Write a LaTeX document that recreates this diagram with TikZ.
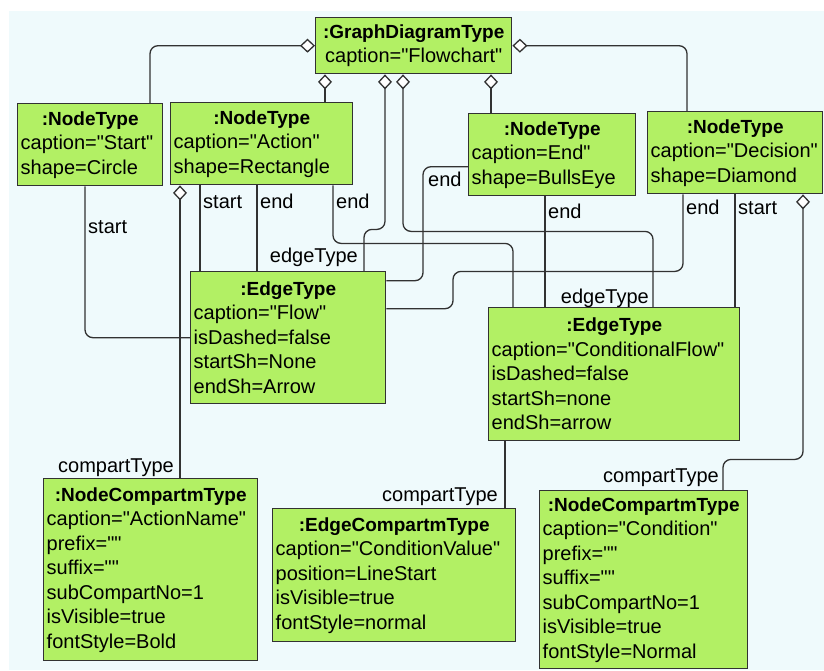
\documentclass[tikz,border=0pt]{standalone}
\usepackage{fontspec}
\setmainfont{Liberation Sans}
\usetikzlibrary{arrows.meta}

\definecolor{bgcyan}{RGB}{239,250,252}
\definecolor{boxgreen}{RGB}{178,240,100}
\definecolor{linegray}{RGB}{50,50,50}
\newcommand{\objfont}{\fontsize{20}{24.5}\selectfont}
\newcommand{\objhead}[1]{{\centering\fontsize{19}{24.5}\selectfont\bfseries #1\par}}
\newcommand{\qmark}{\textquotedbl}

\begin{document}
\begin{tikzpicture}[x=1pt, y=-1pt,
    obj/.style={draw=linegray, line width=1.4pt, fill=boxgreen, anchor=north west,
                inner xsep=3pt, inner ysep=2pt, align=left, font=\objfont},
    role/.style={inner sep=0pt, font=\objfont},
    link/.style={draw=linegray, line width=1.3pt, rounded corners=8pt},
    owner/.style={link, arrows={Diamond[open, fill=white, length=15pt, width=14pt]-}}]

    \useasboundingbox (0 , 0) rectangle (824 , 670);
    \fill[white] (0 , 0) rectangle (824 , 670);
    \fill[bgcyan] (9 , 11) rectangle (824 , 670);

    \node [obj, align=center, text width=190pt, minimum height=56pt] (graph) at (315 , 17)
        {\objhead{:GraphDiagramType}caption=\qmark Flowchart\qmark};
    \node [obj, text width=139pt, minimum height=82pt] (nstart) at (17 , 103)
        {\objhead{:NodeType}caption=\qmark Start\qmark\\shape=Circle};
    \node [obj, text width=176pt, minimum height=82pt] (naction) at (170 , 102)
        {\objhead{:NodeType}caption=\qmark Action\qmark\\shape=Rectangle};
    \node [obj, text width=161pt, minimum height=82pt] (nend) at (468 , 113)
        {\objhead{:NodeType}caption=End\qmark\\shape=BullsEye};
    \node [obj, text width=169pt, minimum height=82pt] (ndecision) at (647 , 111)
        {\objhead{:NodeType}caption=\qmark Decision\qmark\\shape=Diamond};
    \node [obj, text width=189pt, minimum height=132pt] (eflow) at (190 , 271)
        {\objhead{:EdgeType}caption=\qmark Flow\qmark\\isDashed=false\\startSh=None\\endSh=Arrow};
    \node [obj, text width=245pt, minimum height=133pt] (econd) at (488 , 307)
        {\objhead{:EdgeType}caption=\qmark ConditionalFlow\qmark\\isDashed=false\\startSh=none\\endSh=arrow};
    \node [obj, text width=208pt, minimum height=182pt] (cname) at (43 , 478)
        {\objhead{:NodeCompartmType}caption=\qmark ActionName\qmark\\prefix=\qmark\qmark\\suffix=\qmark\qmark\\subCompartNo=1\\isVisible=true\\fontStyle=Bold};
    \node [obj, text width=237pt, minimum height=133pt] (cvalue) at (272 , 508)
        {\objhead{:EdgeCompartmType}caption=\qmark ConditionValue\qmark\\position=LineStart\\isVisible=true\\fontStyle=normal};
    \node [obj, text width=202pt, minimum height=178pt] (ccond) at (539 , 490)
        {\objhead{:NodeCompartmType}caption=\qmark Condition\qmark\\prefix=\qmark\qmark\\suffix=\qmark\qmark\\subCompartNo=1\\isVisible=true\\fontStyle=Normal};

    \path[owner] (graph.west) -| ([xshift=133pt]nstart.north west);
    \path[owner] (graph.east) -| ([xshift=40pt]ndecision.north west);
    \path[owner] ([xshift=10pt]graph.south west) -- ([xshift=155pt]naction.north west);
    \path[owner] ([xshift=70pt]graph.south west) -- ++(0 , 155) -| ([xshift=174pt]eflow.north west);
    \path[owner] ([xshift=88pt]graph.south west) -- ++(0 , 157) -| ([xshift=165pt]econd.north west);
    \path[owner] ([xshift=176pt]graph.south west) -- ([xshift=23pt]nend.north west);
    \path[owner] ([xshift=10pt]naction.south west) -- ([xshift=137pt]cname.north west);
    \path[owner] ([xshift=156pt]ndecision.south west) -- ++(0 , 265) -| ([xshift=184pt]ccond.north west);

    \path[link] ([xshift=68pt]nstart.south west) |- (eflow.west);
    \path[link] ([xshift=30pt]naction.south west) -- ([xshift=10pt]eflow.north west);
    \path[link] ([xshift=87pt]naction.south west) -- ([xshift=67pt]eflow.north west);
    \path[link] ([xshift=163pt]naction.south west) -- ++(0 , 58) -| ([xshift=25pt]econd.north west);
    \path[link] ([yshift=-12pt]nend.west) -- ++(-45 , 0) |- ([yshift=57pt]eflow.east);
    \path[link] ([xshift=77pt]nend.south west) -- ([xshift=57pt]econd.north west);
    \path[link] ([xshift=36pt]ndecision.south west) -- ++(0 , 77) -- ++(-230 , 0) |- ([yshift=29pt]eflow.east);
    \path[link] ([xshift=88pt]ndecision.south west) -- ([xshift=247pt]econd.north west);
    \path[link] ([xshift=17pt]econd.south west) -- ([xshift=233pt]cvalue.north west);

    \node [role, anchor=base west] (rstart) at (88 , 233) {start};
    \node [role, anchor=base west] (rastart) at (203 , 208) {start};
    \node [role, anchor=base west] (raend) at (260 , 208) {end};
    \node [role, anchor=base west] (raend2) at (336 , 208) {end};
    \node [role, anchor=base west] (rendl) at (428 , 186) {end};
    \node [role, anchor=base west] (rendb) at (548 , 218) {end};
    \node [role, anchor=base west] (rdend) at (686 , 214) {end};
    \node [role, anchor=base west] (rdstart) at (738 , 214) {start};
    \node [role, anchor=base east] (rflow) at (358 , 262) {edgeType};
    \node [role, anchor=base east] (rcond) at (649 , 303) {edgeType};
    \node [role, anchor=base east] (rcname) at (174 , 472) {compartType};
    \node [role, anchor=base east] (rcvalue) at (498 , 501) {compartType};
    \node [role, anchor=base east] (rccond) at (719 , 482) {compartType};
\end{tikzpicture}
\end{document}
